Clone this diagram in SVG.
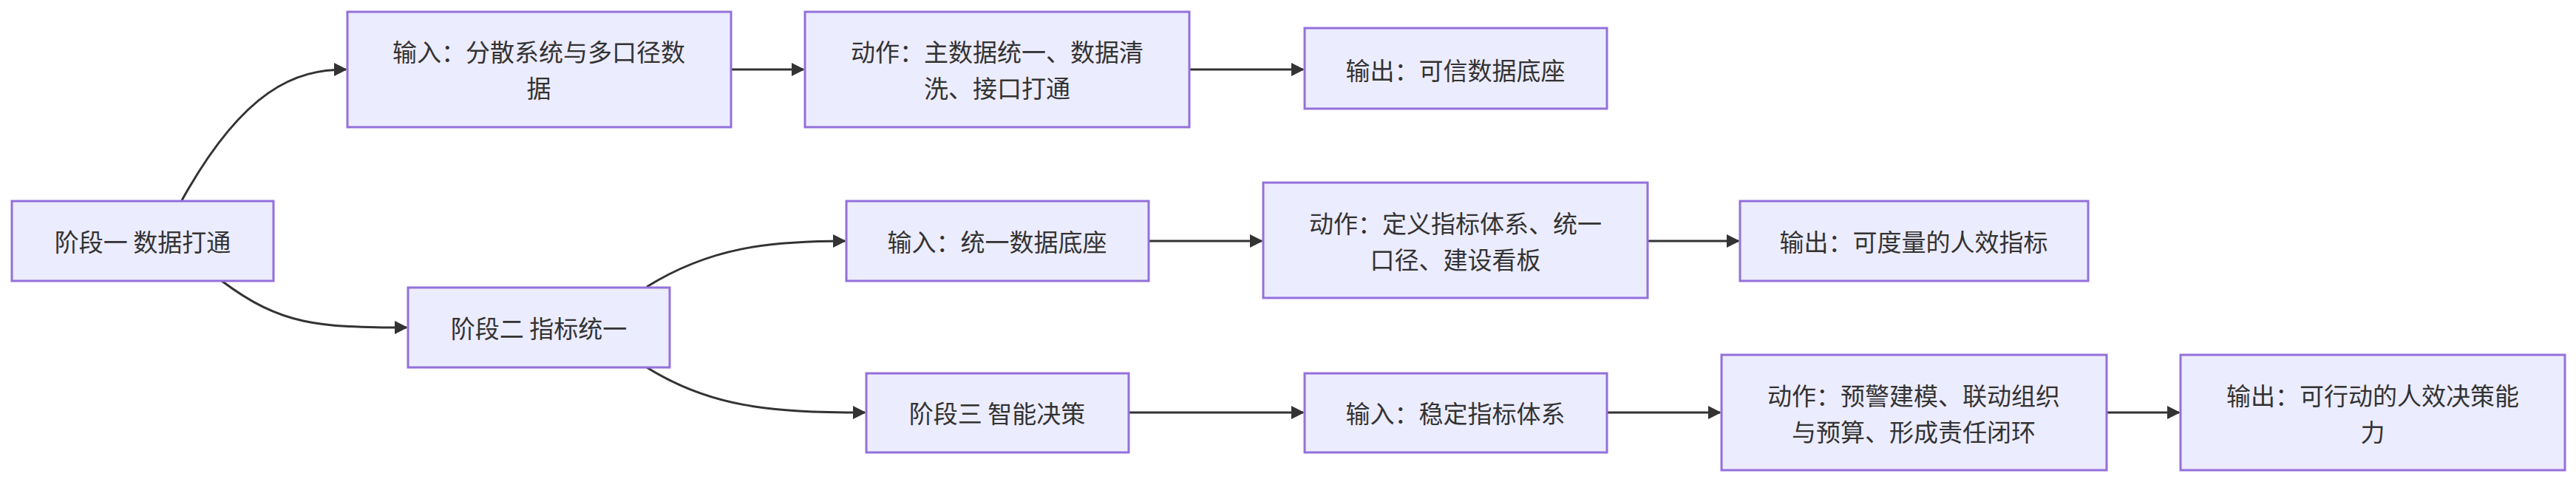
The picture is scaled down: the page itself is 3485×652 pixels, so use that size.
<svg xmlns="http://www.w3.org/2000/svg" width="3485" height="652" viewBox="0 0 3485 652">
<style>
.n rect{fill:#ECECFF;stroke:#9370DB;stroke-width:3}
.n text{font-family:"Noto Sans CJK SC","Liberation Sans",sans-serif;font-size:33px;fill:#333;text-anchor:middle;dominant-baseline:central}
.e path{fill:none;stroke:#333;stroke-width:3;marker-end:url(#a)}
</style>
<defs><marker id="a" viewBox="0 0 10 10" refX="9" refY="5" markerWidth="6" markerHeight="6" orient="auto" markerUnits="strokeWidth"><path d="M0,0L10,5L0,10z" fill="#333"/></marker></defs>
<g class="e">
<path d="M246,271 C330,120 400,94 468,94"/>
<path d="M300,380 C380,440 430,443 550,443"/>
<path d="M875,388 C960,335 1040,326 1143,326"/>
<path d="M875,497 C960,550 1040,558 1170,558"/>
<path d="M989,94 L1087,94"/>
<path d="M1609,94 L1763,94"/>
<path d="M1554,326 L1707,326"/>
<path d="M2229,326 L2352,326"/>
<path d="M1527,558 L1763,558"/>
<path d="M2174,558 L2327,558"/>
<path d="M2850,558 L2948,558"/>
</g>
<g id="s1" class="n"><rect x="16" y="272" width="354" height="108"/><text x="193" y="326">阶段一 数据打通</text></g>
<g id="i1" class="n"><rect x="470" y="16" width="519" height="156"/><text x="729" y="69">输入：分散系统与多口径数</text><text x="729" y="118">据</text></g>
<g id="a1" class="n"><rect x="1089" y="16" width="520" height="156"/><text x="1349" y="69">动作：主数据统一、数据清</text><text x="1349" y="118">洗、接口打通</text></g>
<g id="o1" class="n"><rect x="1765" y="38" width="409" height="109"/><text x="1969" y="94">输出：可信数据底座</text></g>
<g id="s2" class="n"><rect x="552" y="389" width="354" height="108"/><text x="729" y="443">阶段二 指标统一</text></g>
<g id="i2" class="n"><rect x="1145" y="272" width="409" height="108"/><text x="1349" y="326">输入：统一数据底座</text></g>
<g id="a2" class="n"><rect x="1709" y="247" width="520" height="156"/><text x="1969" y="301">动作：定义指标体系、统一</text><text x="1969" y="350">口径、建设看板</text></g>
<g id="o2" class="n"><rect x="2354" y="272" width="471" height="108"/><text x="2589" y="326">输出：可度量的人效指标</text></g>
<g id="s3" class="n"><rect x="1172" y="505" width="355" height="107"/><text x="1349" y="558">阶段三 智能决策</text></g>
<g id="i3" class="n"><rect x="1765" y="505" width="409" height="107"/><text x="1969" y="558">输入：稳定指标体系</text></g>
<g id="a3" class="n"><rect x="2329" y="480" width="521" height="156"/><text x="2589" y="534">动作：预警建模、联动组织</text><text x="2589" y="583">与预算、形成责任闭环</text></g>
<g id="o3" class="n"><rect x="2950" y="480" width="520" height="156"/><text x="3210" y="534">输出：可行动的人效决策能</text><text x="3210" y="583">力</text></g>
</svg>
